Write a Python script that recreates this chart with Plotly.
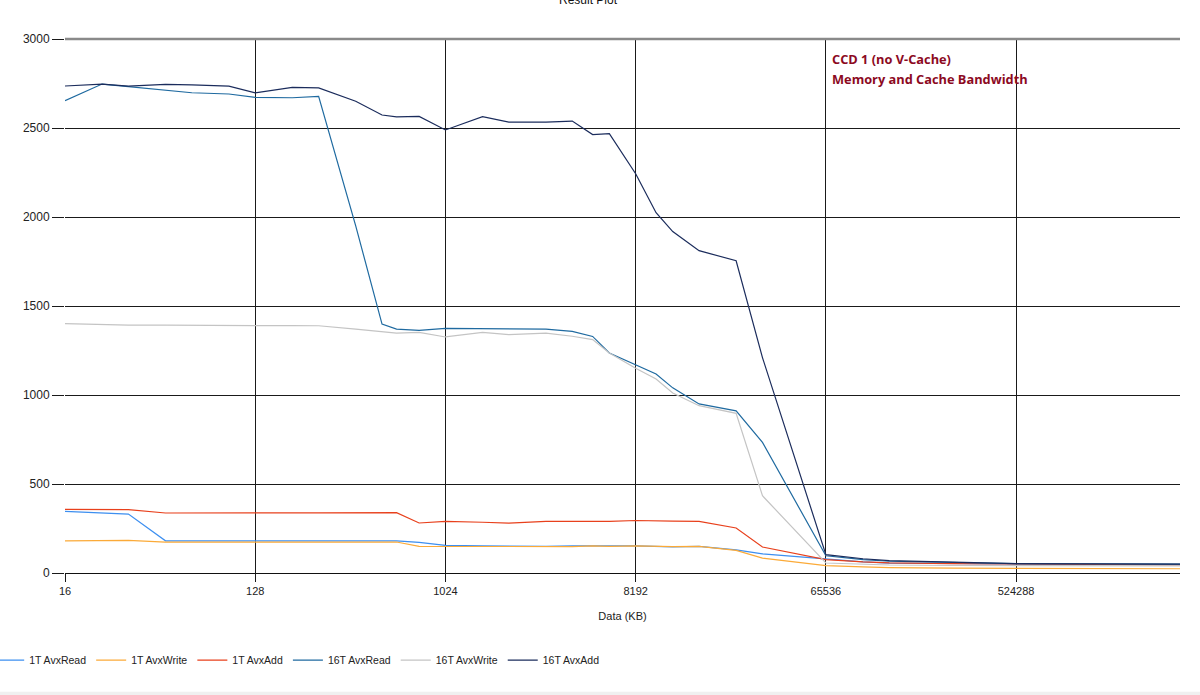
import plotly.graph_objects as go

# Test sizes (KB)
sizes_kb = [16, 24, 32, 48, 64, 96, 128, 192, 256, 384, 512, 600, 768, 1024,
            1536, 2048, 3072, 4096, 5120, 6144, 8192, 10240, 12288, 16384,
            24567, 32768, 65536, 98304, 131072, 262144, 393216, 524288,
            1048576, 1572864, 2097152, 3145728]

t1_avx_read = [346, 338, 331, 181, 181, 181, 181, 181, 181, 181, 181, 180, 172, 155,
               152, 150, 150, 152, 150, 152, 152, 150, 147, 150, 130, 108, 80, 62, 56,
               52, 50, 49, 48, 48, 47, 47]
t1_avx_write = [181, 182, 183, 174, 174, 174, 174, 174, 174, 174, 174, 174, 150, 150,
                148, 146, 150, 148, 152, 150, 152, 150, 148, 150, 127, 84, 41, 34, 30,
                27, 26, 25, 24, 24, 24, 24]
t1_avx_add = [358, 357, 356, 337, 338, 338, 337, 338, 338, 339, 340, 339, 281, 290,
              285, 280, 290, 290, 290, 290, 295, 292, 291, 290, 253, 146, 75, 62, 57,
              53, 51, 50, 48, 47, 46, 45]
t16_avx_read = [2654, 2747, 2733, 2711, 2698, 2691, 2672, 2670, 2678, 1950, 1398, 1370,
                1363, 1374, 1374, 1370, 1370, 1357, 1329, 1236, 1172, 1118, 1040, 950,
                911, 734, 97, 75, 66, 58, 55, 53, 52, 51, 51, 50]
t16_avx_write = [1401, 1395, 1393, 1393, 1391, 1390, 1390, 1390, 1389, 1370, 1355, 1348,
                 1352, 1326, 1352, 1339, 1348, 1330, 1311, 1236, 1150, 1090, 1011, 940,
                 897, 434, 56, 48, 45, 42, 41, 41, 40, 40, 40, 40]
t16_avx_add = [2736, 2747, 2735, 2745, 2742, 2735, 2697, 2728, 2725, 2650, 2573, 2563,
               2565, 2489, 2564, 2533, 2533, 2539, 2463, 2468, 2243, 2024, 1918, 1811,
               1754, 1210, 103, 80, 70, 60, 56, 53, 51, 51, 50, 50]

series_names = ["1T AvxRead", "1T AvxWrite", "1T AvxAdd",
                "16T AvxRead", "16T AvxWrite", "16T AvxAdd"]
series_values = [t1_avx_read, t1_avx_write, t1_avx_add,
                 t16_avx_read, t16_avx_write, t16_avx_add]
series_colors = ["#3d8ff0", "#fbaa38", "#e8401c", "#1f6aa0", "#c4c4c4", "#1b2c5c"]

x_tick_vals = [16, 128, 1024, 8192, 65536, 524288]
x_tick_text = ["16", "128", "1024", "8192", "65536", "524288"]

fig = go.Figure()
for name, vals, col in zip(series_names, series_values, series_colors):
    fig.add_trace(go.Scatter(x=sizes_kb, y=vals, name=name, mode="lines",
                             line=dict(color=col, width=1.2)))

font_family = "Liberation Sans, Arial, sans-serif"

fig.update_layout(
    width=1200, height=695,
    margin=dict(l=65, r=20, t=39, b=122, autoexpand=False),
    plot_bgcolor="white", paper_bgcolor="white",
    font=dict(family=font_family, size=11, color="#222"),
    title=dict(text="Result Plot", x=0.49, xanchor="center", y=1.0, yref="container",
               yanchor="middle", font=dict(size=12, color="#111", family=font_family)),
    showlegend=True,
    legend=dict(orientation="h", x=-0.068, xanchor="left", y=-0.163, yanchor="middle",
                itemwidth=30, font=dict(size=10.5, color="#222", family=font_family),
                bgcolor="rgba(0,0,0,0)"),
    xaxis=dict(type="log", range=[1.2041199826559248, 6.4977164], automargin=False,
               tickmode="array", tickvals=x_tick_vals, ticktext=x_tick_text,
               showgrid=True, gridcolor="#1a1a1a", gridwidth=1,
               ticks="outside", ticklen=8, tickcolor="#1a1a1a",
               showline=False, zeroline=False,
               title=dict(text="Data (KB)", font=dict(size=11, color="#222"), standoff=16),
               tickfont=dict(size=11, color="#222")),
    yaxis=dict(range=[0, 3000], dtick=500, showgrid=True, gridcolor="#1a1a1a", gridwidth=1,
               automargin=False,
               ticks="outside", ticklen=12, tickcolor="#1a1a1a",
               zeroline=True, zerolinecolor="#111", zerolinewidth=1.2,
               showline=False, tickfont=dict(size=12, color="#222")),
)

# grey top border line
fig.add_shape(type="line", xref="paper", yref="paper", x0=0, x1=1, y0=1, y1=1,
              line=dict(color="#8a8a8a", width=2.5), layer="above")
# light bottom strip of the window
fig.add_shape(type="rect", xref="paper", yref="paper", x0=-0.06, x1=1.02,
              y0=-0.2285, y1=-0.2225, line=dict(width=0), fillcolor="#f0f0f0")

ann_font = dict(family="Open Sans, Noto Sans, sans-serif", size=12.8, color="#8c0a1f")
fig.add_annotation(text="<b>CCD 1 (no V-Cache)</b>", xref="paper", yref="paper",
                   x=0.686, y=0.9625, xanchor="left", yanchor="middle",
                   showarrow=False, font=ann_font)
fig.add_annotation(text="<b>Memory and Cache Bandwidth</b>", xref="paper", yref="paper",
                   x=0.686, y=0.925, xanchor="left", yanchor="middle",
                   showarrow=False, font=ann_font)

fig.write_html("out.html")
